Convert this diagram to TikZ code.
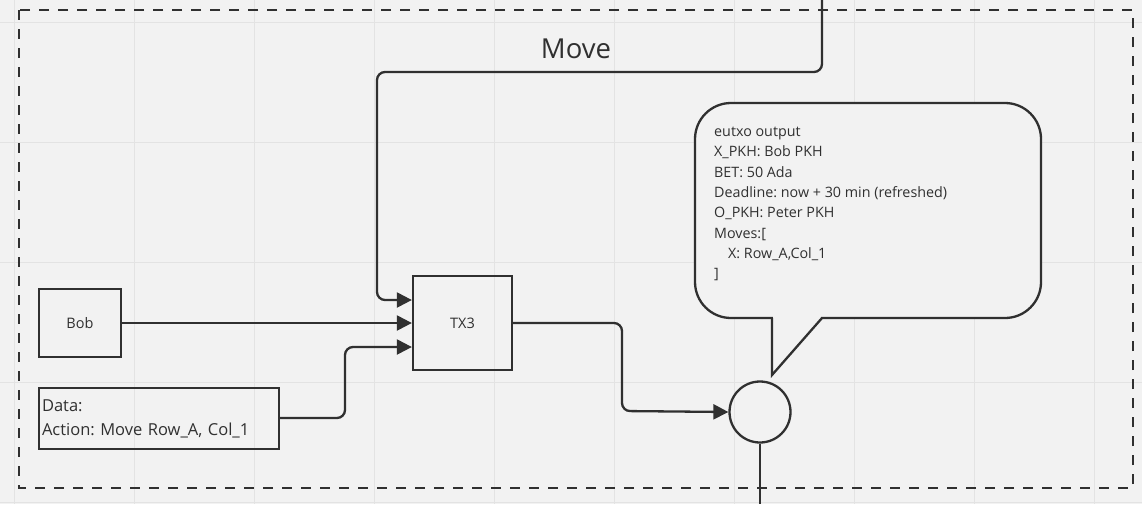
\documentclass[tikz,border=0pt]{standalone}
\usepackage{fontspec}
\setmainfont{Open Sans}
\usetikzlibrary{arrows.meta}
\definecolor{bg}{HTML}{F2F2F2}
\definecolor{gridc}{HTML}{E3E3E3}
\definecolor{ink}{HTML}{303030}
\frenchspacing
\begin{document}
\begin{tikzpicture}[x=1pt,y=-1pt,
  box/.style={draw=ink, line width=2.3pt, inner sep=0pt, text=ink},
  conn/.style={draw=ink, line width=2.3pt, rounded corners=8pt},
  arr/.style={conn, -{Triangle[length=15pt,width=15pt]}},
  txt/.style={text=ink, inner sep=0pt}]
\useasboundingbox (0,0) rectangle (1142,504);
\fill[bg] (0,0) rectangle (1142,504);
\foreach \x in {14,134,...,1094} \draw[gridc, line width=1pt] (\x,0) -- (\x,504);
\foreach \y in {22,142,...,502} \draw[gridc, line width=1pt] (0,\y) -- (1142,\y);
% group frame
\draw[ink, line width=2.5pt, dash pattern=on 10pt off 9pt] (19,10) rectangle (1133,488);
\node[txt, font=\fontsize{27.5}{30}\selectfont] (move) at (576,49) {Move};
% nodes
\node[box, minimum width=82pt, minimum height=68pt, font=\fontsize{14.5}{17}\selectfont] (bob) at (80,323) {Bob};
\node[box, minimum width=99pt, minimum height=94pt, font=\fontsize{14.5}{17}\selectfont] (tx3) at (462.5,323) {TX3};
\node[box, minimum width=240pt, minimum height=61pt, text width=234pt, inner xsep=3pt, align=left,
      font=\fontsize{16.5}{24}\selectfont] (data) at (159,418.5) {Data:\\Action: Move Row\_A, Col\_1};
\node[box, circle, minimum size=61pt] (out) at (760,412) {};
% callout
\node[box, fill=bg, rounded corners=36pt, minimum width=346pt, minimum height=215pt] (call) at (868,210.5) {};
\fill[bg] (773.2,316.2) rectangle (820.5,319.8);
\coordinate (tailL) at (772,318);
\coordinate (tailT) at (772,375);
\coordinate (tailR) at (822,318);
\draw[ink, line width=2.3pt, line join=miter] (tailL) -- (tailT) -- (tailR);
\node[txt, anchor=north west, align=left, font=\fontsize{14.3}{20.3}\selectfont] (calltext) at (714,127)
  {eutxo output\\X\_PKH: Bob PKH\\BET: 50 Ada\\Deadline: now + 30 min (refreshed)\\O\_PKH: Peter PKH\\Moves:[\\\hspace*{14pt}X: Row\_A,Col\_1\\]};
% connectors
\coordinate (topin) at (822,0);
\coordinate (bottomout) at (760,504);
\draw[arr] (topin) -- (822,72) -- (377,72) -- (377,300) -- (tx3.west |- 0,300);
\draw[arr] (bob.east) -- (tx3.west);
\draw[arr] (data.east |- 0,418) -- (345,418) -- (345,347) -- (tx3.west |- 0,347);
\draw[arr] (tx3.east) -- (622,323) -- (622,411) -- (out.west);
\draw[conn] (out.south) -- (bottomout);
\end{tikzpicture}
\end{document}
